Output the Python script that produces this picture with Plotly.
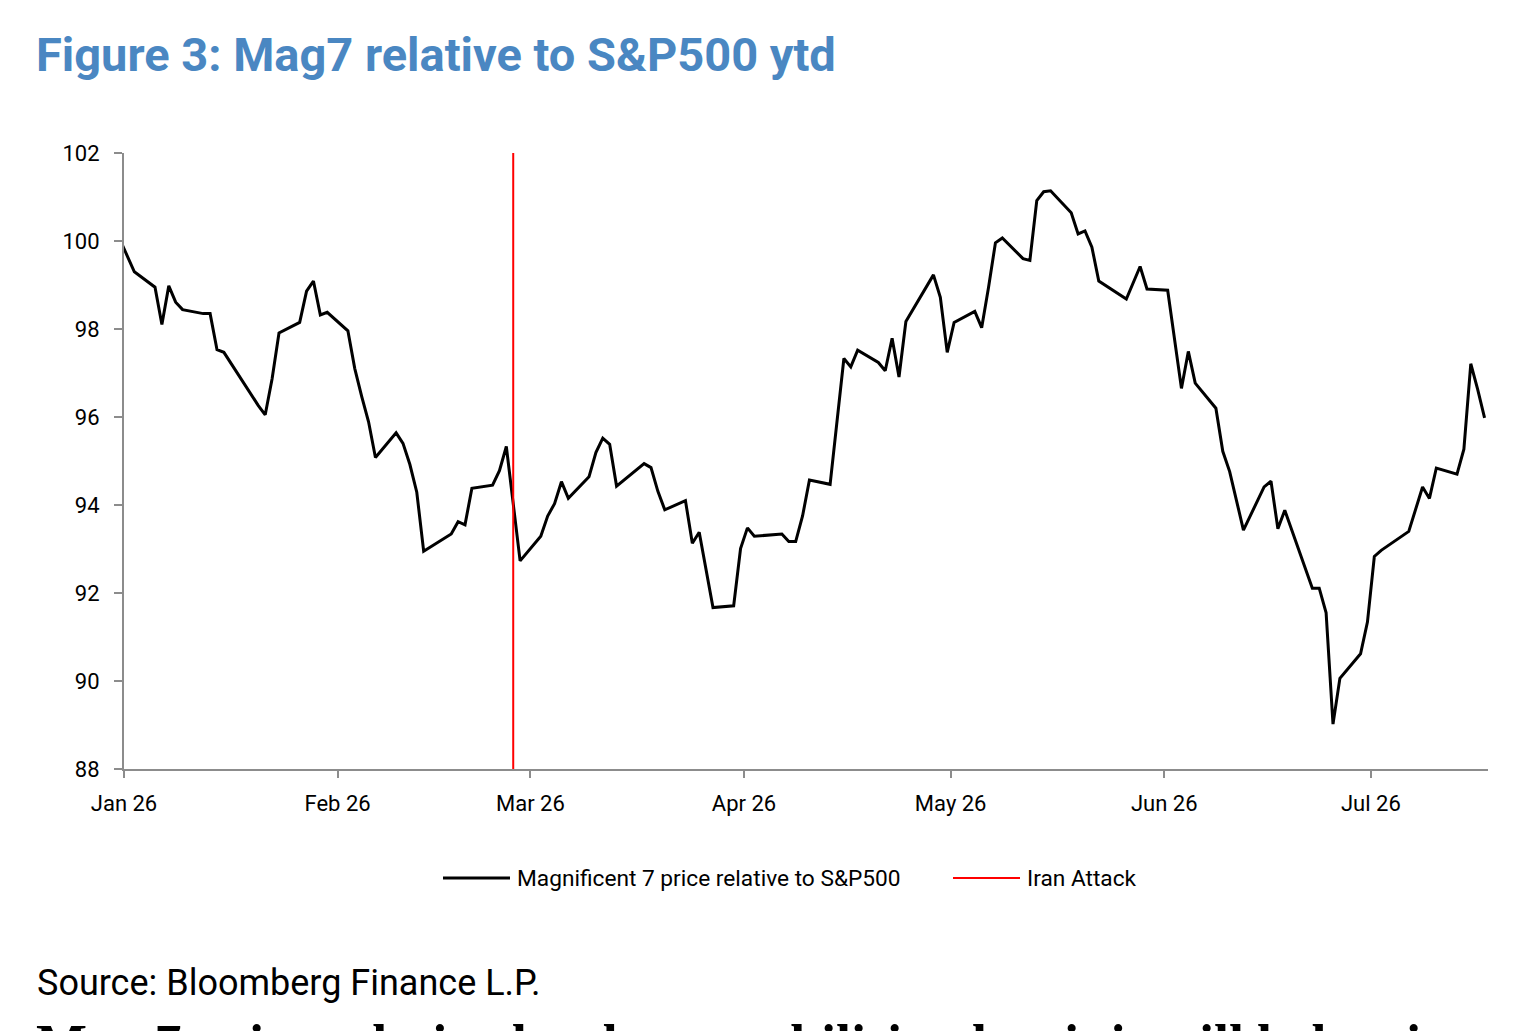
import pandas as pd
import plotly.graph_objects as go

# ---------------- data ----------------
dates = [
    "2025-12-31", "2026-01-02", "2026-01-05", "2026-01-06", "2026-01-07", "2026-01-08", "2026-01-09",
    "2026-01-12", "2026-01-13", "2026-01-14", "2026-01-15", "2026-01-20", "2026-01-21", "2026-01-22",
    "2026-01-23", "2026-01-26", "2026-01-27", "2026-01-28", "2026-01-29", "2026-01-30",
    "2026-02-02", "2026-02-03", "2026-02-04", "2026-02-05", "2026-02-06", "2026-02-09", "2026-02-10",
    "2026-02-11", "2026-02-12", "2026-02-13", "2026-02-17", "2026-02-18", "2026-02-19", "2026-02-20",
    "2026-02-23", "2026-02-24", "2026-02-25", "2026-02-27",
    "2026-03-02", "2026-03-03", "2026-03-04", "2026-03-05", "2026-03-06", "2026-03-09", "2026-03-10",
    "2026-03-11", "2026-03-12", "2026-03-13", "2026-03-17", "2026-03-18", "2026-03-19", "2026-03-20",
    "2026-03-23", "2026-03-24", "2026-03-25", "2026-03-26", "2026-03-27", "2026-03-30", "2026-03-31",
    "2026-04-01", "2026-04-02", "2026-04-06", "2026-04-07", "2026-04-08", "2026-04-09", "2026-04-10",
    "2026-04-13", "2026-04-15", "2026-04-16", "2026-04-17", "2026-04-20", "2026-04-21", "2026-04-22",
    "2026-04-23", "2026-04-24", "2026-04-28", "2026-04-29", "2026-04-30",
    "2026-05-01", "2026-05-04", "2026-05-05", "2026-05-06", "2026-05-07", "2026-05-08", "2026-05-11",
    "2026-05-12", "2026-05-13", "2026-05-14", "2026-05-15", "2026-05-18", "2026-05-19", "2026-05-20",
    "2026-05-21", "2026-05-22", "2026-05-26", "2026-05-28", "2026-05-29",
    "2026-06-01", "2026-06-03", "2026-06-04", "2026-06-05", "2026-06-08", "2026-06-09", "2026-06-10",
    "2026-06-12", "2026-06-15", "2026-06-16", "2026-06-17", "2026-06-18", "2026-06-22", "2026-06-23",
    "2026-06-24", "2026-06-25", "2026-06-26", "2026-06-29", "2026-06-30",
    "2026-07-01", "2026-07-02", "2026-07-06", "2026-07-08", "2026-07-09", "2026-07-10", "2026-07-13",
    "2026-07-14", "2026-07-15", "2026-07-16", "2026-07-17",
]
mag7_rel = [
    100.00, 99.30, 98.95, 98.10, 98.98, 98.61, 98.44,
    98.35, 98.35, 97.53, 97.47, 96.26, 96.05, 96.87,
    97.91, 98.15, 98.86, 99.09, 98.32, 98.38,
    97.96, 97.10, 96.47, 95.89, 95.08, 95.64, 95.40,
    94.92, 94.29, 92.95, 93.34, 93.62, 93.55, 94.38,
    94.45, 94.78, 95.33, 92.73,
    93.29, 93.75, 94.03, 94.53, 94.15, 94.64, 95.19,
    95.52, 95.38, 94.43, 94.94, 94.85, 94.31, 93.89,
    94.10, 93.13, 93.38, 92.55, 91.67, 91.71, 93.01,
    93.48, 93.29, 93.34, 93.17, 93.17, 93.75, 94.57,
    94.47, 97.33, 97.14, 97.52, 97.24, 97.05, 97.79,
    96.91, 98.17, 99.23, 98.72, 97.47,
    98.15, 98.40, 98.03, 98.95, 99.96, 100.07, 99.60,
    99.56, 100.92, 101.12, 101.14, 100.64, 100.16, 100.23,
    99.86, 99.09, 98.68, 99.42, 98.91,
    98.88, 96.65, 97.49, 96.77, 96.20, 95.22, 94.76,
    93.43, 94.41, 94.54, 93.46, 93.88, 92.11, 92.11,
    91.55, 89.02, 90.06, 90.62, 91.34,
    92.83, 92.97, 93.40, 94.41, 94.15, 94.84, 94.70,
    95.27, 97.21, 96.63, 95.98,
]
event_date = "2026-02-26"
event_name = "Iran Attack"
series_name = "Magnificent 7 price relative to S&P500"
month_ticks = ["2026-01-01", "2026-02-01", "2026-03-01", "2026-04-01",
               "2026-05-01", "2026-06-01", "2026-07-01"]
month_labels = ["Jan 26", "Feb 26", "Mar 26", "Apr 26", "May 26", "Jun 26", "Jul 26"]
y_ticks = [88, 90, 92, 94, 96, 98, 100, 102]

title_text = "Figure 3: Mag7 relative to S&P500 ytd"
source_text = "Source: Bloomberg Finance L.P."
body_text = "Mag 7 price relative has been stabilising but it is still below its"

# ---------------- layout geometry ----------------
W, H = 1536, 1031
L, R, T, B = 124, 48, 153, 262
PW, PH = W - L - R, H - T - B

def px(xp):
    return (xp - L) / PW

def py(yp):
    return (H - B - yp) / PH

SANS = "Roboto, Liberation Sans, Arial, sans-serif"
GREY = "#8c8c8c"

# Excel date axis places each daily point in the middle of its day
half_day = pd.Timedelta(hours=12)
x_vals = pd.to_datetime(dates) + half_day
x_event = pd.Timestamp(event_date) + half_day

fig = go.Figure()
fig.add_trace(go.Scatter(
    x=x_vals, y=mag7_rel, mode="lines", name=series_name,
    line=dict(color="black", width=3), showlegend=False, cliponaxis=True,
))
fig.add_trace(go.Scatter(
    x=[x_event, x_event], y=[88, 102], mode="lines", name=event_name,
    line=dict(color="#ff0000", width=2), showlegend=False,
))

fig.update_layout(
    width=W, height=H,
    margin=dict(l=L, r=R, t=T, b=B, pad=0),
    paper_bgcolor="white", plot_bgcolor="white",
    font=dict(family=SANS, size=22, color="black"),
    xaxis=dict(
        type="date", range=["2026-01-01", "2026-07-18"],
        tickvals=month_ticks, ticktext=month_labels,
        ticks="outside", ticklen=7, tickwidth=2, tickcolor=GREY,
        showline=True, linecolor=GREY, linewidth=2,
        showgrid=False, zeroline=False, ticklabelstandoff=7,
        tickfont=dict(family=SANS, size=22),
    ),
    yaxis=dict(
        range=[88, 102], tickvals=y_ticks,
        ticks="outside", ticklen=8, tickwidth=2, tickcolor=GREY,
        showline=True, linecolor=GREY, linewidth=2,
        showgrid=False, zeroline=False, ticklabelstandoff=10,
        tickfont=dict(family=SANS, size=22),
    ),
    showlegend=False,
)

# manual legend
fig.add_shape(type="line", xref="paper", yref="paper",
              x0=px(443), x1=px(510), y0=py(878), y1=py(878),
              line=dict(color="black", width=3))
fig.add_annotation(xref="paper", yref="paper", x=px(515), y=py(878),
                   xanchor="left", yanchor="middle", showarrow=False,
                   text=series_name, font=dict(family=SANS, size=22.7, color="black"))
fig.add_shape(type="line", xref="paper", yref="paper",
              x0=px(953), x1=px(1020), y0=py(878), y1=py(878),
              line=dict(color="#ff0000", width=2))
fig.add_annotation(xref="paper", yref="paper", x=px(1025), y=py(878),
                   xanchor="left", yanchor="middle", showarrow=False,
                   text=event_name, font=dict(family=SANS, size=22.7, color="black"))

# title
fig.add_annotation(xref="paper", yref="paper", x=px(34), y=py(55),
                   xanchor="left", yanchor="middle", showarrow=False,
                   text="<b>" + title_text + "</b>",
                   font=dict(family=SANS, size=47, color="#4a87c2"))
# source
fig.add_annotation(xref="paper", yref="paper", x=px(35), y=py(983),
                   xanchor="left", yanchor="middle", showarrow=False,
                   text=source_text,
                   font=dict(family=SANS, size=36, color="black"))
# following body text (cut off at the bottom of the page)
fig.add_annotation(xref="paper", yref="paper", x=px(34), y=py(1012),
                   xanchor="left", yanchor="top", showarrow=False,
                   text="<b>" + body_text + "</b>",
                   font=dict(family="Liberation Serif, Times New Roman, serif", size=54, color="black"))

fig.write_html("out.html")
